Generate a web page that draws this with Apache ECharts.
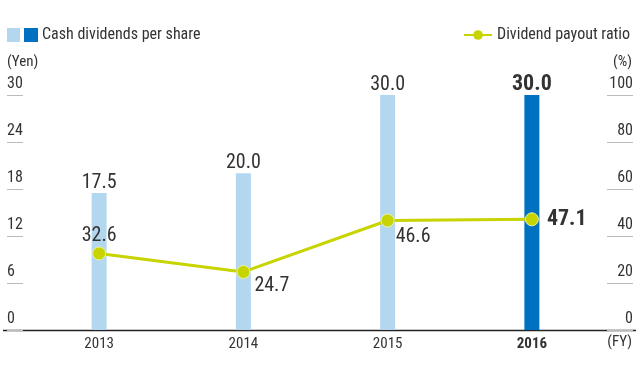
<!DOCTYPE html>
<html><head><meta charset="utf-8">
<script src="https://cdn.jsdelivr.net/npm/echarts@6/dist/echarts.min.js"></script>
<style>html,body{margin:0;padding:0;background:#fff}#c{width:641px;height:381px}</style>
</head><body><div id="c"></div>
<script>
const categories = ['2013', '2014', '2015', '2016'];
const dividends = [17.5, 20.0, 30.0, 30.0];
const payoutRatio = [32.6, 24.7, 46.6, 47.1];
const yenTicks = [0, 6, 12, 18, 24, 30];
const pctTicks = [0, 20, 40, 60, 80, 100];

const FONT = "'Liberation Sans Narrow', 'Roboto Condensed', 'Liberation Sans', sans-serif";
const TXT = '#333';
const LIGHT = '#b3d7ef';
const DARK = '#0071c1';
const LINE = '#c8d400';

const chart = echarts.init(document.getElementById('c'), null, {renderer: 'canvas'});
const lineLabelPos = [
  {position: 'top', distance: 0},
  {position: [18, 11]},
  {position: [15, 14]},
  {position: 'right', distance: 8, fontWeight: 'bold', fontSize: 22}
];
const hiddenLine = {show: true, lineStyle: {color: 'rgba(0,0,0,0)', width: 0}};
chart.setOption({
  animation: false,
  textStyle: {fontFamily: FONT, color: TXT},
  grid: {left: 27, right: 37, top: 95, bottom: 51},
  legend: [{
    data: ['Cash dividends per share'],
    left: 19, top: 22, icon: 'rect', itemWidth: 14, itemHeight: 14, itemGap: 6,
    itemStyle: {color: DARK},
    textStyle: {fontFamily: FONT, fontSize: 16, color: TXT, padding: [0,0,0,-1]}
  }, {
    data: ['Dividend payout ratio'],
    right: 6, top: 22, itemWidth: 28, itemHeight: 12,
    itemStyle: {borderWidth: 0},
    lineStyle: {width: 2},
    textStyle: {fontFamily: FONT, fontSize: 16, color: TXT}
  }],
  xAxis: {
    type: 'category',
    data: categories.map((c, i) => i === categories.length - 1 ? {value: c, textStyle: {fontWeight: 'bold'}} : c),
    axisLine: {show: false},
    axisTick: {show: false},
    axisLabel: {fontFamily: FONT, fontSize: 15, color: TXT, margin: 7}
  },
  yAxis: [{
    type: 'value', min: yenTicks[0], max: yenTicks[yenTicks.length - 1], interval: yenTicks[1] - yenTicks[0],
    position: 'left', offset: 20,
    axisLine: hiddenLine,
    axisTick: {show: true, inside: true, length: 16, lineStyle: {color: '#bbb', width: 1}},
    splitLine: {show: false},
    axisLabel: {inside: true, margin: 0, align: 'left', verticalAlign: 'bottom', padding: [0,0,3,0],
      fontFamily: FONT, fontSize: 16, color: TXT}
  }, {
    type: 'value', min: pctTicks[0], max: pctTicks[pctTicks.length - 1], interval: pctTicks[1] - pctTicks[0],
    position: 'right', offset: 29,
    axisLine: hiddenLine,
    axisTick: {show: true, inside: true, length: 26, lineStyle: {color: '#bbb', width: 1}},
    splitLine: {show: false},
    axisLabel: {inside: true, margin: 0, align: 'right', verticalAlign: 'bottom', padding: [0,0,3,0],
      fontFamily: FONT, fontSize: 16, color: TXT}
  }],
  series: [{
    name: 'Cash dividends per share',
    type: 'bar', yAxisIndex: 0, barWidth: 15,
    itemStyle: {color: LIGHT},
    label: {show: true, position: 'top', distance: 0, fontFamily: FONT, fontSize: 20, color: TXT,
      formatter: p => p.value.toFixed(1)},
    data: dividends.map((v, i) => i === dividends.length - 1
      ? {value: v, itemStyle: {color: DARK}, label: {fontWeight: 'bold', fontSize: 22}}
      : v),
    z: 1
  }, {
    name: 'Dividend payout ratio',
    type: 'line', yAxisIndex: 1,
    symbol: 'circle', symbolSize: 13,
    lineStyle: {color: LINE, width: 3},
    itemStyle: {color: LINE, borderColor: '#eef2a0', borderWidth: 1},
    label: {show: true, fontFamily: FONT, fontSize: 20, color: TXT, formatter: p => p.value.toFixed(1)},
    data: payoutRatio.map((v, i) => ({value: v, label: lineLabelPos[i]})),
    z: 3
  }],
  graphic: [
    {type: 'rect', left: 7, top: 28, shape: {width: 13, height: 14}, style: {fill: LIGHT}},
    {type: 'line', shape: {x1: 3, y1: 330.5, x2: 636, y2: 330.5}, style: {stroke: '#222', lineWidth: 1.5}},
    {type: 'text', left: 7, top: 55, style: {text: '(Yen)', fontFamily: FONT, fontSize: 15, fill: TXT}},
    {type: 'text', right: 9, top: 55, style: {text: '(%)', fontFamily: FONT, fontSize: 15, fill: TXT}},
    {type: 'text', right: 9, top: 335, style: {text: '(FY)', fontFamily: FONT, fontSize: 15, fill: TXT}}
  ]
});
</script></body></html>
